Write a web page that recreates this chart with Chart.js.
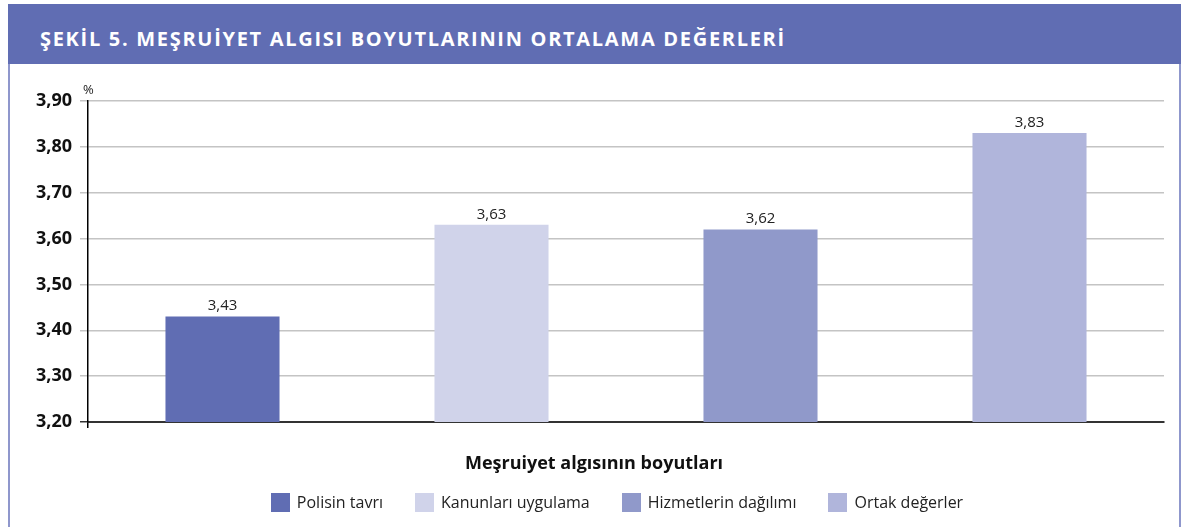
<!DOCTYPE html>
<html>
<head>
<meta charset="utf-8">
<script src="https://cdn.jsdelivr.net/npm/chart.js@4.4.1/dist/chart.umd.min.js"></script>
<style>
  html, body { margin: 0; padding: 0; background: #fff; }
  body { width: 1186px; height: 527px; position: relative; overflow: hidden; font-family: "Open Sans", Lato, sans-serif; }
  #frame { position: absolute; left: 8px; top: 4px; width: 1169px; height: 540px; border-left: 2px solid #8f97cc; border-right: 2px solid #8f97cc; }
  #header { position: absolute; left: 8px; top: 4px; width: 1173px; height: 60px; overflow: hidden; background: #606db3; color: #fff;
            font-weight: 700; font-size: 20px; letter-spacing: 1.7px; line-height: 70px; padding-left: 32px; box-sizing: border-box; white-space: nowrap; }
  #wrap { position: absolute; left: 10px; top: 66px; width: 1168px; height: 461px; }
  #xtitle { position: absolute; left: 10px; width: 1168px; top: 450px; text-align: center; font-size: 18px; font-weight: 700; color: #111; line-height: 24px; }
  #legend { position: absolute; left: 33px; width: 1168px; top: 492px; display: flex; justify-content: center; font-size: 16px; color: #222; }
  #legend .item { display: flex; align-items: center; margin: 0 16px; line-height: 20px; }
  #legend .box { width: 19px; height: 19px; margin-right: 7px; }
</style>
</head>
<body>
<div id="frame"></div>
<div id="header">ŞEKİL 5. MEŞRUİYET ALGISI BOYUTLARININ ORTALAMA DEĞERLERİ</div>
<div id="wrap"><canvas id="chart"></canvas></div>
<div id="xtitle"></div>
<div id="legend"></div>
<script>
// values
const categories = ['Polisin tavrı', 'Kanunları uygulama', 'Hizmetlerin dağılımı', 'Ortak değerler'];
const values = [3.43, 3.63, 3.62, 3.83];
const barColors = ['#606db3', '#d0d3ea', '#9099ca', '#b0b5db'];
const yTicks = [3.20, 3.30, 3.40, 3.50, 3.60, 3.70, 3.80, 3.90];
const xTitle = 'Meşruiyet algısının boyutları';
const unitLabel = '%';

const FONT = '"Open Sans", Lato, sans-serif';
const fmt = v => v.toFixed(2).replace('.', ',');

document.getElementById('xtitle').textContent = xTitle;

// html legend, one entry per category
const legendEl = document.getElementById('legend');
categories.forEach((c, i) => {
  const item = document.createElement('div');
  item.className = 'item';
  const box = document.createElement('span');
  box.className = 'box';
  box.style.background = barColors[i];
  const txt = document.createElement('span');
  txt.textContent = c;
  item.appendChild(box);
  item.appendChild(txt);
  legendEl.appendChild(item);
});

// value labels above bars + the "%" unit above the y axis
const labelPlugin = {
  id: 'labels',
  afterDatasetsDraw(chart) {
    const ctx = chart.ctx;
    const meta = chart.getDatasetMeta(0);
    ctx.save();
    ctx.font = '15px ' + FONT;
    ctx.fillStyle = '#222';
    ctx.textAlign = 'center';
    ctx.textBaseline = 'bottom';
    meta.data.forEach((bar, i) => {
      ctx.fillText(fmt(values[i]), bar.x, bar.y - 3);
    });
    const y = chart.scales.y;
    ctx.font = '13px ' + FONT;
    ctx.textAlign = 'left';
    ctx.fillText(unitLabel, y.right - 5, y.top - 4);
    ctx.restore();
  }
};

new Chart(document.getElementById('chart'), {
  type: 'bar',
  data: {
    labels: categories,
    datasets: [{
      data: values,
      backgroundColor: barColors,
      borderWidth: 0,
      categoryPercentage: 1,
      barPercentage: 0.424
    }]
  },
  options: {
    responsive: true,
    maintainAspectRatio: false,
    animation: false,
    layout: { padding: { left: 0, right: 14, top: 35, bottom: 99 } },
    plugins: {
      tooltip: { enabled: false },
      legend: { display: false }
    },
    scales: {
      x: {
        ticks: { display: false },
        border: { color: '#333', width: 2 },
        grid: {
          drawOnChartArea: false,
          tickLength: 6,
          color: c => c.index === 0 ? '#000' : 'rgba(0,0,0,0)',
          lineWidth: 1.5
        }
      },
      y: {
        min: 3.2, max: 3.9,
        afterFit: s => { s.width = 78; },
        afterBuildTicks: s => { s.ticks = yTicks.map(v => ({ value: v })); },
        ticks: {
          padding: 8,
          color: '#111',
          font: { family: FONT, size: 18, weight: 'bold' },
          callback: v => fmt(v)
        },
        border: { color: '#000', width: 1.5 },
        grid: {
          tickLength: 8,
          color: c => c.index === 0 ? '#333' : '#c4c4c4',
          lineWidth: 1.5
        }
      }
    }
  },
  plugins: [labelPlugin]
});
</script>
</body>
</html>
